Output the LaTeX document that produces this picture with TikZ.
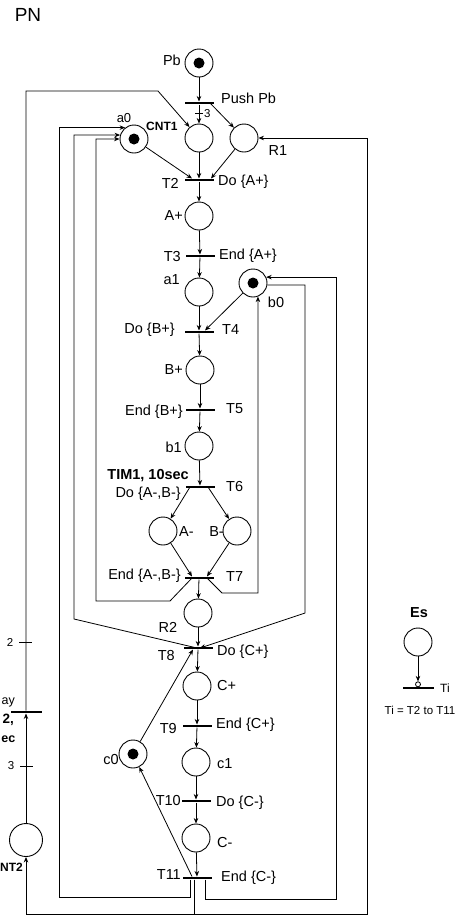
\documentclass[tikz,border=0pt]{standalone}
\usepackage{fontspec}
\setmainfont{Liberation Sans}
\usetikzlibrary{arrows.meta}
\begin{document}
\begin{tikzpicture}[x=1pt,y=-1pt,
  place/.style={circle,draw,line width=0.9pt,minimum size=28pt,inner sep=0pt},
  token/.style={circle,fill,minimum size=11pt,inner sep=0pt},
  trans/.style={rectangle,fill,minimum width=29pt,minimum height=2.6pt,inner sep=0pt},
  arc/.style={line width=0.8pt,-{Stealth[length=5.5pt,width=4.5pt]}},
  plain/.style={line width=0.8pt},
  lbl/.style={font=\fontsize{14.5}{16}\selectfont,inner sep=0pt},
  blbl/.style={font=\fontsize{14.5}{16}\selectfont\bfseries,inner sep=0pt},
  slbl/.style={font=\fontsize{11.5}{13}\selectfont,inner sep=0pt},
  sblbl/.style={font=\fontsize{12}{14}\selectfont\bfseries,inner sep=0pt}]
\fill[white] (0,0) rectangle (470,916);
\useasboundingbox (0,0) rectangle (470,916);

% title
\node[font=\fontsize{19}{21}\selectfont,inner sep=0pt] (title) at (28,15) {PN};

% places
\node[place] (Pb) at (199,63) {};
\node[token] (Pbt) at (Pb) {};
\node[place] (CNT1) at (199,138) {};
\node[place] (a0) at (134,139) {};
\node[token] (a0t) at (a0) {};
\node[place] (R1) at (244,138) {};
\node[place] (Ap) at (199,216) {};
\node[place] (a1) at (199,292) {};
\node[place] (b0) at (253,283) {};
\node[token] (b0t) at (b0) {};
\node[place] (Bp) at (200,370) {};
\node[place] (b1) at (199,446) {};
\node[place] (Am) at (163,531) {};
\node[place] (Bm) at (237,531) {};
\node[place] (R2) at (198,613) {};
\node[place] (Cp) at (197,686) {};
\node[place] (c0) at (133,754) {};
\node[token] (c0t) at (c0) {};
\node[place] (c1) at (196,762) {};
\node[place] (Cm) at (196,838) {};
\node[place,minimum size=33pt] (CNT2) at (26,840) {};

% transitions
\node[trans] (TPush) at (199,103) {};
\node[trans] (T2) at (199,180) {};
\node[trans] (T3) at (200,256) {};
\node[trans] (T4) at (199,332) {};
\node[trans] (T5) at (200,410) {};
\node[trans] (T6) at (200,487) {};
\node[trans] (T7) at (199,578) {};
\node[trans] (T8) at (198,648) {};
\node[trans] (T9) at (197,726) {};
\node[trans] (T10) at (196,801) {};
\node[trans] (T11) at (197,878) {};
\node[trans,minimum width=31pt] (TD) at (26,712) {};

% main column arcs
\draw[arc] (Pb) -- (TPush);
\draw[arc] (TPush) -- (CNT1);
\draw[plain] (195,113) -- (203,113);
\node[slbl,anchor=west] (w3) at (204,114) {3};
\draw[arc] ([xshift=11pt]TPush.center) -- (R1);
\draw[arc] (CNT1) -- (T2);
\draw[arc] (a0) -- ([xshift=-7pt]T2.north);
\draw[arc] (R1) -- ([xshift=12pt]T2.north);
\draw[arc] (T2) -- (Ap);
\draw[arc] (Ap) -- (T3);
\draw[arc] (T3) -- (a1);
\draw[arc] (a1) -- (T4);
\draw[arc] (b0) -- ([xshift=6pt]T4.north);
\draw[arc] (T4) -- (Bp);
\draw[arc] (Bp) -- (T5);
\draw[arc] (T5) -- (b1);
\draw[arc] (b1) -- (T6);
\draw[arc] ([xshift=-10pt]T6.center) -- (Am);
\draw[arc] ([xshift=8pt]T6.center) -- (Bm);
\draw[arc] (Am) -- ([xshift=-7pt]T7.north);
\draw[arc] (Bm) -- ([xshift=8pt]T7.north);
\draw[arc] (T7) -- (R2);
\draw[arc] (R2) -- (T8);
\draw[arc] (T8) -- (Cp);
\draw[arc] (Cp) -- (T9);
\draw[arc] (T9) -- (c1);
\draw[arc] (c1) -- (T10);
\draw[arc] (T10) -- (Cm);
\draw[arc] (Cm) -- (T11);
\draw[arc] (c0) -- ([xshift=-5pt]T8.south);
\draw[arc] ([xshift=-5pt]T11.north) -- (c0);

% loops from T7
\draw[arc] ([xshift=-7pt]T7.center) -- (170,601) -- (96,601) |- (a0.west);
\draw[arc] ([xshift=8pt]T7.center) -- (222,593) -| (b0.-70);

% loops at T8
\draw[arc] ([xshift=-1pt]T8.center) -- (74,619) |- (a0.164);
\draw[arc] (b0.-8) -| (305,613) -- ([xshift=2pt]T8.center);

% loops from T11
\draw[arc] ([xshift=-7pt]T11.south) |- (59,897) |- (a0.128);
\draw[arc] ([xshift=-2.5pt]T11.south) |- (26,914) -- (CNT2);
\draw[arc] ([xshift=-2.5pt]T11.south) |- (367,914) |- (R1.east);
\draw[arc] ([xshift=8pt]T11.south) |- (336,899) |- (b0.24);

% counter / delay
\draw[arc] (CNT2) -- (TD);
\draw[arc] (TD) -- (26,91) -- (158,91) -- (CNT1);
\draw[plain] (19,642) -- (32,642);
\draw[plain] (20,766) -- (33,766);
\node[slbl] (w2) at (10,642) {2};
\node[slbl] (w3b) at (11,766) {3};

% labels
\node[lbl,anchor=east] (lPb) at (181,60) {Pb};
\node[lbl,anchor=west] (lPush) at (221,98) {Push Pb};
\node[font=\fontsize{13}{15}\selectfont,inner sep=0pt] (la0) at (124,118) {a0};
\node[sblbl,anchor=west] (lCNT1) at (146,126) {CNT1};
\node[lbl] (lR1) at (278,151) {R1};
\node[lbl,anchor=east] (lT2) at (179,183) {T2};
\node[lbl,anchor=west] (lDoA) at (218,182) {Do \{A+\}};
\node[lbl,anchor=east] (lAp) at (183,216) {A+};
\node[lbl,anchor=east] (lT3) at (181,257) {T3};
\node[lbl,anchor=west] (lEndA) at (219,256) {End \{A+\}};
\node[lbl,anchor=east] (la1) at (180,280) {a1};
\node[lbl] (lb0) at (276,302) {b0};
\node[lbl,anchor=east] (lDoB) at (175,330) {Do \{B+\}};
\node[lbl,anchor=west] (lT4) at (222,330) {T4};
\node[lbl,anchor=east] (lBp) at (183,370) {B+};
\node[lbl,anchor=east] (lEndB) at (183,412) {End \{B+\}};
\node[lbl,anchor=west] (lT5) at (226,409) {T5};
\node[lbl,anchor=east] (lb1) at (182,447) {b1};
\node[blbl,anchor=east] (lTIM1) at (189,476) {TIM1, 10sec};
\node[lbl,anchor=east] (lDoAB) at (181,494) {Do \{A-,B-\}};
\node[lbl,anchor=west] (lT6) at (226,487) {T6};
\node[lbl,anchor=west] (lAm) at (179,532) {A-};
\node[lbl,anchor=east] (lBm) at (224,532) {B-};
\node[lbl,anchor=east] (lEndAB) at (181,576) {End \{A-,B-\}};
\node[lbl,anchor=west] (lT7) at (226,577) {T7};
\node[lbl] (lR2) at (168,627) {R2};
\node[lbl,anchor=east] (lT8) at (175,655) {T8};
\node[lbl,anchor=west] (lDoC) at (217,652) {Do \{C+\}};
\node[lbl,anchor=west] (lCp) at (217,685) {C+};
\node[lbl,anchor=east] (lT9) at (177,728) {T9};
\node[lbl,anchor=west] (lEndC) at (216,725) {End \{C+\}};
\node[lbl,anchor=east] (lc0) at (119,759) {c0};
\node[lbl,anchor=west] (lc1) at (217,764) {c1};
\node[lbl,anchor=east] (lT10) at (181,800) {T10};
\node[lbl,anchor=west] (lDoCm) at (216,803) {Do \{C-\}};
\node[lbl,anchor=west] (lCm) at (217,842) {C-};
\node[lbl,anchor=east] (lT11) at (181,875) {T11};
\node[lbl,anchor=west] (lEndCm) at (221,878) {End \{C-\}};
\node[font=\fontsize{12.5}{14}\selectfont,inner sep=0pt,anchor=east] (lDelay) at (15,702) {ay};
\node[font=\fontsize{13.5}{15}\selectfont\bfseries,inner sep=0pt,anchor=east] (lTIM2) at (14,720) {2,};
\node[font=\fontsize{12.5}{14}\selectfont\bfseries,inner sep=0pt,anchor=east] (lsec) at (15.5,739) {ec};
\node[sblbl,anchor=east] (lCNT2) at (23,867) {NT2};

% legend
\node[blbl] (lEs) at (419,613) {Es};
\node[place] (Es) at (418,642) {};
\node[trans,minimum width=31pt] (Ti) at (418,688) {};
\node[circle,draw,fill=white,line width=0.8pt,minimum size=5pt,inner sep=0pt] (Esc) at (418,684.3) {};
\draw[arc] (Es) -- (Esc);
\node[font=\fontsize{12}{14}\selectfont,inner sep=0pt,anchor=west] (lTi) at (440,688) {Ti};
\node[font=\fontsize{11.5}{13}\selectfont,inner sep=0pt] (lTiT) at (420,710) {Ti = T2 to T11};
\end{tikzpicture}
\end{document}
